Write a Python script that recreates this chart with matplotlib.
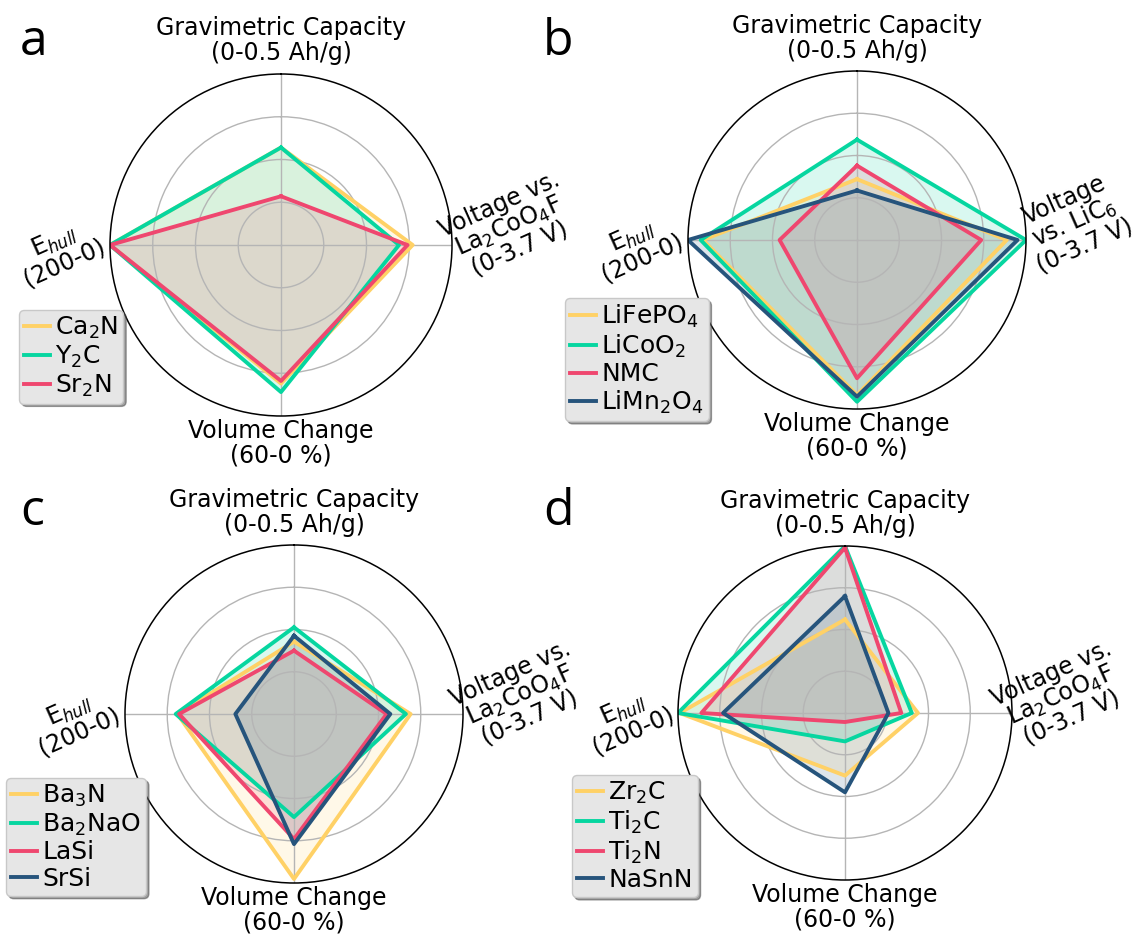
import numpy as np
import matplotlib
matplotlib.use("Agg")
import matplotlib.pyplot as plt

# normalised scores (0 = centre, 1 = outer ring), axis order:
# gravimetric capacity, voltage, volume change, E_hull
axis_names = ["Gravimetric Capacity\n(0-0.5 Ah/g)",
              "Voltage vs.\nLa$_2$CoO$_4$F\n(0-3.7 V)",
              "Volume Change\n(60-0 %)",
              "E$_{hull}$\n(200-0)"]
volt_label_b = "Voltage\nvs. LiC$_6$\n(0-3.7 V)"

names_a = ["Ca$_2$N", "Y$_2$C", "Sr$_2$N"]
vals_a = [[0.57, 0.77, 0.81, 1.00],
          [0.57, 0.69, 0.86, 1.00],
          [0.285, 0.74, 0.795, 1.00]]

names_b = ["LiFePO$_4$", "LiCoO$_2$", "NMC", "LiMn$_2$O$_4$"]
vals_b = [[0.36, 0.886, 0.917, 0.912],
          [0.594, 1.00, 0.957, 0.925],
          [0.44, 0.735, 0.818, 0.458],
          [0.293, 0.95, 0.927, 1.00]]

names_c = ["Ba$_3$N", "Ba$_2$NaO", "LaSi", "SrSi"]
vals_c = [[0.428, 0.69, 0.976, 0.69],
          [0.513, 0.662, 0.61, 0.70],
          [0.375, 0.548, 0.74, 0.68],
          [0.463, 0.57, 0.77, 0.347]]

names_d = ["Zr$_2$C", "Ti$_2$C", "Ti$_2$N", "NaSnN"]
vals_d = [[0.56, 0.437, 0.375, 0.99],
          [1.00, 0.40, 0.17, 1.00],
          [0.99, 0.337, 0.054, 0.86],
          [0.70, 0.26, 0.475, 0.73]]

colors = ["#ffd166", "#06d6a0", "#ef476f", "#26547c"]

fig = plt.figure(figsize=(11.4, 9.34), dpi=100)

# panel centres / radius in pixels (from top-left)
def add_radar(cx, cy, r):
    W, H = 1140, 934
    return fig.add_axes([(cx - r) / W, 1 - (cy + r) / H, 2 * r / W, 2 * r / H],
                        projection="polar")

theta = np.array([0, np.pi / 2, np.pi, 3 * np.pi / 2])

def radar(ax, names, vals, volt_label, leg_xy, volt_r=1.34):
    ax.set_theta_offset(np.pi / 2)
    ax.set_theta_direction(-1)
    ax.set_ylim(0, 1)
    ax.set_yticks([0.25, 0.5, 0.75])
    ax.set_yticklabels([])
    ax.set_xticks(theta)
    ax.set_xticklabels([])
    ax.grid(color="#b5b5b5", lw=1)
    ax.spines["polar"].set_color("black")
    ax.spines["polar"].set_linewidth(1.1)
    t = np.append(theta, theta[0])
    for nm, v, c in zip(names, vals, colors):
        v = np.append(v, v[0])
        ax.plot(t, v, color=c, lw=2.8, label=nm)
        ax.fill(t, v, color=c, alpha=0.15)
    fs = 17
    ax.text(0, 1.05, axis_names[0], ha="center", va="bottom", fontsize=fs,
            linespacing=1.05)
    ax.text(np.pi, 1.02, axis_names[2], ha="center", va="top", fontsize=fs,
            linespacing=1.0)
    ax.text(np.pi / 2 - 0.08, volt_r, volt_label, ha="center", va="center",
            rotation=24, rotation_mode="anchor", fontsize=fs, linespacing=0.95)
    ax.text(3 * np.pi / 2 - 0.03, 1.30, axis_names[3], ha="center", va="center",
            rotation=24, rotation_mode="anchor", fontsize=fs, linespacing=0.95)
    leg = ax.legend(loc="upper left", bbox_to_anchor=leg_xy,
                    bbox_transform=fig.transFigure, borderaxespad=0,
                    fontsize=18, handlelength=1.05, handletextpad=0.2,
                    labelspacing=0.1, borderpad=0.2, frameon=True,
                    fancybox=True, shadow=True, framealpha=1)
    leg.get_frame().set_facecolor("#e6e6e6")
    leg.get_frame().set_edgecolor("#c8c8c8")

ax_a = add_radar(281, 245, 171)
radar(ax_a, names_a, vals_a, axis_names[1], (19 / 1140, 1 - 310 / 934))
ax_b = add_radar(857, 240, 169)
radar(ax_b, names_b, vals_b, volt_label_b, (565 / 1140, 1 - 298 / 934), 1.29)
ax_c = add_radar(294, 714, 169)
radar(ax_c, names_c, vals_c, axis_names[1], (6 / 1140, 1 - 778 / 934))
ax_d = add_radar(845, 713, 167)
radar(ax_d, names_d, vals_d, axis_names[1], (572 / 1140, 1 - 775 / 934), 1.30)

for lab, x, y in [("a", 20, 55), ("b", 543, 55), ("c", 20, 525), ("d", 543, 525)]:
    fig.text(x / 1140, 1 - y / 934, lab, fontsize=36, family="Open Sans",
             ha="left", va="baseline")

fig.savefig("out.png", dpi=100)
